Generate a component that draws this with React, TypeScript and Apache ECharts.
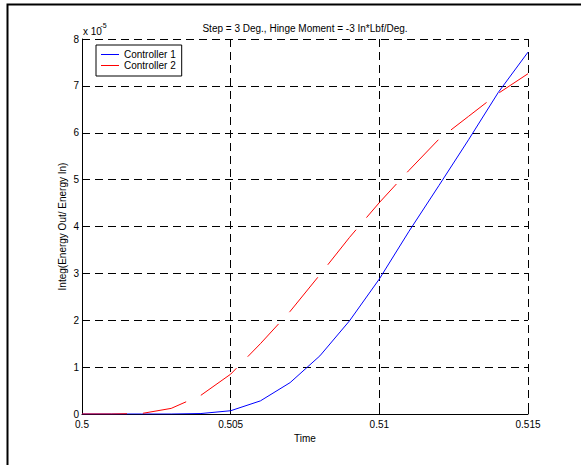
import React, { useEffect, useRef } from "react";
import * as echarts from "echarts";

const TIME = [0.5, 0.501, 0.502, 0.503, 0.504, 0.505, 0.506, 0.507, 0.508, 0.509, 0.51, 0.511, 0.512, 0.513, 0.514, 0.515];
const CONTROLLER_1 = [0, 0, 0, 0, 0.01, 0.07, 0.28, 0.67, 1.24, 1.99, 2.88, 3.9, 4.87, 5.85, 6.86, 7.72];
const CONTROLLER_2 = [0, 0, 0.01, 0.12, 0.4, 0.85, 1.5, 2.19, 2.97, 3.77, 4.51, 5.2, 5.86, 6.35, 6.84, 7.26];
const SERIES_NAMES = ["Controller 1", "Controller 2"];
const TITLE = "Step = 3 Deg., Hinge Moment = -3 In*Lbf/Deg.";
const X_NAME = "Time";
const Y_NAME = "Integ(Energy Out/ Energy In)";
const Y_EXP_BASE = "x 10";
const Y_EXP = "-5";

const FONT = "Liberation Sans, Arial, sans-serif";

export default function App() {
  const ref = useRef<HTMLDivElement>(null);
  useEffect(() => {
    if (!ref.current) return;
    const chart = echarts.init(ref.current, null, { renderer: "svg" });
    const gridDash = { color: "#000", width: 1, type: [8, 5] as any };
    chart.setOption({
      animation: false,
      backgroundColor: "#fff",
      textStyle: { fontFamily: FONT, color: "#000" },
      grid: { left: 82, top: 39, width: 446, height: 375 },
      legend: {
        data: SERIES_NAMES.map((n) => ({ name: n, icon: "rect" })),
        orient: "vertical",
        left: 96,
        top: 45,
        padding: [4, 6, 5, 5],
        itemGap: 0,
        itemWidth: 18,
        itemHeight: 1,
        borderColor: "#000",
        borderWidth: 1,
        borderRadius: 0,
        backgroundColor: "#fff",
        textStyle: { fontFamily: FONT, fontSize: 10, color: "#000", lineHeight: 11 },
      },
      xAxis: {
        type: "value",
        min: 0.5,
        max: 0.515,
        interval: 0.005,
        name: X_NAME,
        nameLocation: "middle",
        nameGap: 17,
        nameTextStyle: { fontFamily: FONT, fontSize: 10, color: "#000" },
        axisLine: { show: true, lineStyle: { color: "#000", width: 1 } },
        axisTick: { show: true, inside: true, length: 5, lineStyle: { color: "#000" } },
        axisLabel: {
          margin: 5,
          fontFamily: FONT,
          fontSize: 10,
          color: "#000",
          formatter: (v: number) => String(+v.toFixed(3)),
        },
        splitLine: { show: true, lineStyle: gridDash },
      },
      yAxis: {
        type: "value",
        min: 0,
        max: 8,
        interval: 1,
        axisLine: { show: true, lineStyle: { color: "#000", width: 1 } },
        axisTick: { show: true, inside: true, length: 5, lineStyle: { color: "#000" } },
        axisLabel: { margin: 3, fontFamily: FONT, fontSize: 10, color: "#000" },
        splitLine: { show: true, lineStyle: gridDash },
      },
      series: [
        {
          name: SERIES_NAMES[0],
          type: "line",
          symbol: "none",
          data: TIME.map((t, i) => [t, CONTROLLER_1[i]]),
          lineStyle: { color: "#0000ff", width: 1 },
          itemStyle: { color: "#0000ff" },
          z: 3,
        },
        {
          name: SERIES_NAMES[1],
          type: "line",
          symbol: "none",
          data: TIME.map((t, i) => [t, CONTROLLER_2[i]]),
          lineStyle: { color: "#ff0000", width: 1, type: [45, 16] },
          itemStyle: { color: "#ff0000" },
          z: 4,
        },
      ],
      graphic: [
        {
          type: "rect",
          shape: { x: 7.5, y: 4.5, width: 800, height: 800 },
          style: { fill: "none", stroke: "#000", lineWidth: 2 },
          silent: true,
        },
        {
          type: "text",
          x: 305,
          y: 28,
          style: {
            text: TITLE,
            fontFamily: FONT,
            fontSize: 10,
            fill: "#000",
            textAlign: "center",
            textVerticalAlign: "middle",
          },
        },
        {
          type: "text",
          x: 62,
          y: 226.5,
          rotation: Math.PI / 2,
          style: {
            text: Y_NAME,
            fontFamily: FONT,
            fontSize: 10,
            fill: "#000",
            textAlign: "center",
            textVerticalAlign: "middle",
          },
        },
        {
          type: "text",
          x: 83,
          y: 31,
          style: {
            text: Y_EXP_BASE,
            fontFamily: FONT,
            fontSize: 10,
            fill: "#000",
            textAlign: "left",
            textVerticalAlign: "middle",
          },
        },
        {
          type: "text",
          x: 100.5,
          y: 25.5,
          style: {
            text: Y_EXP,
            fontFamily: FONT,
            fontSize: 7,
            fill: "#000",
            textAlign: "left",
            textVerticalAlign: "middle",
          },
        },
      ],
    });
    return () => chart.dispose();
  }, []);
  return (
    <div
      ref={ref}
      style={{ position: "absolute", left: 0, top: 0, width: 581, height: 465, background: "#fff" }}
    />
  );
}
